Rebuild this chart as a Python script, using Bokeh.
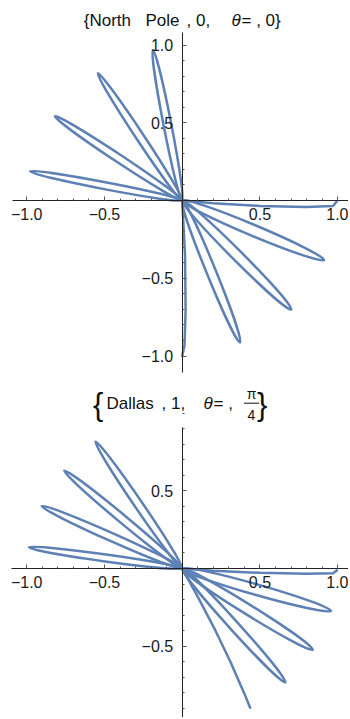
import numpy as np
from bokeh.plotting import figure
from bokeh.layouts import column
from bokeh.models import LinearAxis, FixedTicker
from bokeh.core.properties import value
from bokeh.embed import file_html
from bokeh.resources import INLINE

# ---------------- data ----------------
# North Pole panel: petal tips (outer end of each loop) and loop widths
np_tip_x = [-0.190, -0.547, -0.826, -0.987, 0.920, 0.707, 0.375]
np_tip_y = [0.976, 0.825, 0.547, 0.189, -0.386, -0.707, -0.920]
np_petal_w = [0.050, 0.050, 0.050, 0.045, 0.070, 0.066, 0.060]
# starting stroke (released at x = 1) and final stroke
np_start_x = [0.995, 0.97, 0.80, 0.50, 0.20, 0.0]
np_start_y = [-0.005, -0.035, -0.042, -0.035, -0.018, 0.0]
np_end_x = [0.0, 0.018, 0.022, 0.015, 0.0]
np_end_y = [0.0, -0.35, -0.70, -0.93, -1.0]

# Dallas panel
dl_tip_x = [-0.562, -0.765, -0.911, -0.993, 0.965, 0.846, 0.669]
dl_tip_y = [0.823, 0.635, 0.405, 0.137, -0.275, -0.527, -0.738]
dl_petal_w = [0.052, 0.052, 0.052, 0.045, 0.068, 0.065, 0.060]
dl_start_x = [0.995, 0.97, 0.80, 0.50, 0.20, 0.0]
dl_start_y = [-0.012, -0.030, -0.033, -0.028, -0.015, 0.0]
dl_end_x = [0.0, 0.110, 0.214, 0.310, 0.398, 0.437]
dl_end_y = [0.0, -0.20, -0.40, -0.60, -0.80, -0.896]

# ticks
x_major_ticks = [-1.0, -0.5, 0.5, 1.0]
x_major_labels = ["\u22121.0", "\u22120.5", "0.5", "1.0"]
np_y_major_ticks = [-1.0, -0.5, 0.5, 1.0]
np_y_major_labels = ["\u22121.0", "\u22120.5", "0.5", "1.0"]
dl_y_major_ticks = [-0.5, 0.5]
dl_y_major_labels = ["\u22120.5", "0.5"]
minor_ticks = [-1.0, -0.9, -0.8, -0.7, -0.6, -0.5, -0.4, -0.3, -0.2, -0.1,
               0.1, 0.2, 0.3, 0.4, 0.5, 0.6, 0.7, 0.8, 0.9, 1.0]

CURVE = "#5E81B5"
FONT = "Liberation Sans"
W = 348
SCALE = 155.5          # px per data unit
OX = 181.7             # page x of the origin


def X(px):
    return (px - OX) / SCALE


def make_axis(bounds, ticks, labels, standoff):
    return LinearAxis(fixed_location=0, bounds=bounds,
                      ticker=FixedTicker(ticks=ticks, minor_ticks=minor_ticks),
                      major_label_overrides=dict(zip(ticks, labels)),
                      axis_line_color="#222222", axis_line_width=1,
                      major_tick_line_color="#555555", minor_tick_line_color="#555555",
                      major_tick_in=4, major_tick_out=0,
                      minor_tick_in=2, minor_tick_out=0,
                      major_label_text_font=FONT,
                      major_label_text_font_size="16px",
                      major_label_text_color="#1a1a1a",
                      major_label_standoff=standoff)


def make_panel(height, oy, page_top, xb, yb, yticks, ylabels,
               tip_x, tip_y, pw, sx, sy, ex, ey):
    def Y(py):
        return (oy - py) / SCALE
    p = figure(width=W, height=height, x_range=(X(0), X(W)),
               y_range=(Y(page_top + height), Y(page_top)),
               x_axis_location=None, y_axis_location=None,
               toolbar_location=None, output_backend="svg",
               min_border=0, outline_line_color=None)
    p.title.visible = False
    p.grid.visible = False
    p.background_fill_color = "white"
    p.border_fill_color = "white"

    p.add_layout(make_axis(xb, x_major_ticks, x_major_labels, 7), "below")
    p.add_layout(make_axis(yb, yticks, ylabels, 9), "left")

    tx = np.array(tip_x)
    ty = np.array(tip_y)
    ang = np.arctan2(ty, tx)
    length = np.hypot(tx, ty) - 0.008
    p.ellipse(x=length / 2 * np.cos(ang), y=length / 2 * np.sin(ang),
              width=length, height=pw, angle=ang,
              fill_color=None, line_color=CURVE, line_width=2.5)
    p.line(sx, sy, line_color=CURVE, line_width=2.5, line_cap="round", line_join="round")
    p.line(ex, ey, line_color=CURVE, line_width=2.5, line_cap="round", line_join="round")
    return p, Y


# ---- top panel ----
p1, Y1 = make_panel(380, 200.0, 0, (X(12), X(348)), ((200 - 372) / SCALE, (200 - 32) / SCALE),
                    np_y_major_ticks, np_y_major_labels,
                    np_tip_x, np_tip_y, np_petal_w, np_start_x, np_start_y, np_end_x, np_end_y)
base1 = Y1(20.4)
p1.text(x=[X(83.3), X(145), X(186), X(241)], y=[base1] * 4,
        text=["{North", "Pole", ", 0,", "= , 0}"],
        text_font=value(FONT), text_font_size=value("17px"), text_color="#111111",
        text_baseline="alphabetic", text_align="left")
p1.text(x=[X(231)], y=[base1], text=["\u03b8"], text_font=value(FONT),
        text_font_size=value("17px"), text_font_style="italic", text_color="#111111",
        text_baseline="alphabetic", text_align="left")

# ---- bottom panel ----
p2, Y2 = make_panel(337, 568.0, 380, (X(11), X(348)), ((568 - 717) / SCALE, (568 - 426.7) / SCALE),
                    dl_y_major_ticks, dl_y_major_labels,
                    dl_tip_x, dl_tip_y, dl_petal_w, dl_start_x, dl_start_y, dl_end_x, dl_end_y)
base2 = Y2(402.7)
p2.text(x=[X(106), X(161), X(213)], y=[base2] * 3,
        text=["Dallas", ", 1,", "= ,"],
        text_font=value(FONT), text_font_size=value("17px"), text_color="#111111",
        text_baseline="alphabetic", text_align="left")
p2.text(x=[X(203)], y=[base2], text=["\u03b8"], text_font=value(FONT),
        text_font_size=value("17px"), text_font_style="italic", text_color="#111111",
        text_baseline="alphabetic", text_align="left")
p2.text(x=[X(251), X(251)], y=[Y2(393.3), Y2(414.8)], text=["\u03c0", "4"],
        text_font=value(FONT), text_font_size=value("14px"), text_color="#111111",
        text_baseline="alphabetic", text_align="center")
p2.segment(x0=[X(243.5)], y0=[Y2(402.7)], x1=[X(258.5)], y1=[Y2(402.7)],
           line_color="#111111", line_width=1)
p2.text(x=[X(92.5), X(256.5)], y=[Y2(403.5)] * 2, text=["{", "}"],
        text_font=value(FONT), text_font_size=value("31px"), text_color="#111111",
        text_baseline="alphabetic", text_align="left")

layout = column(p1, p2)

with open("out.html", "w") as f:
    f.write(file_html(layout, INLINE))
